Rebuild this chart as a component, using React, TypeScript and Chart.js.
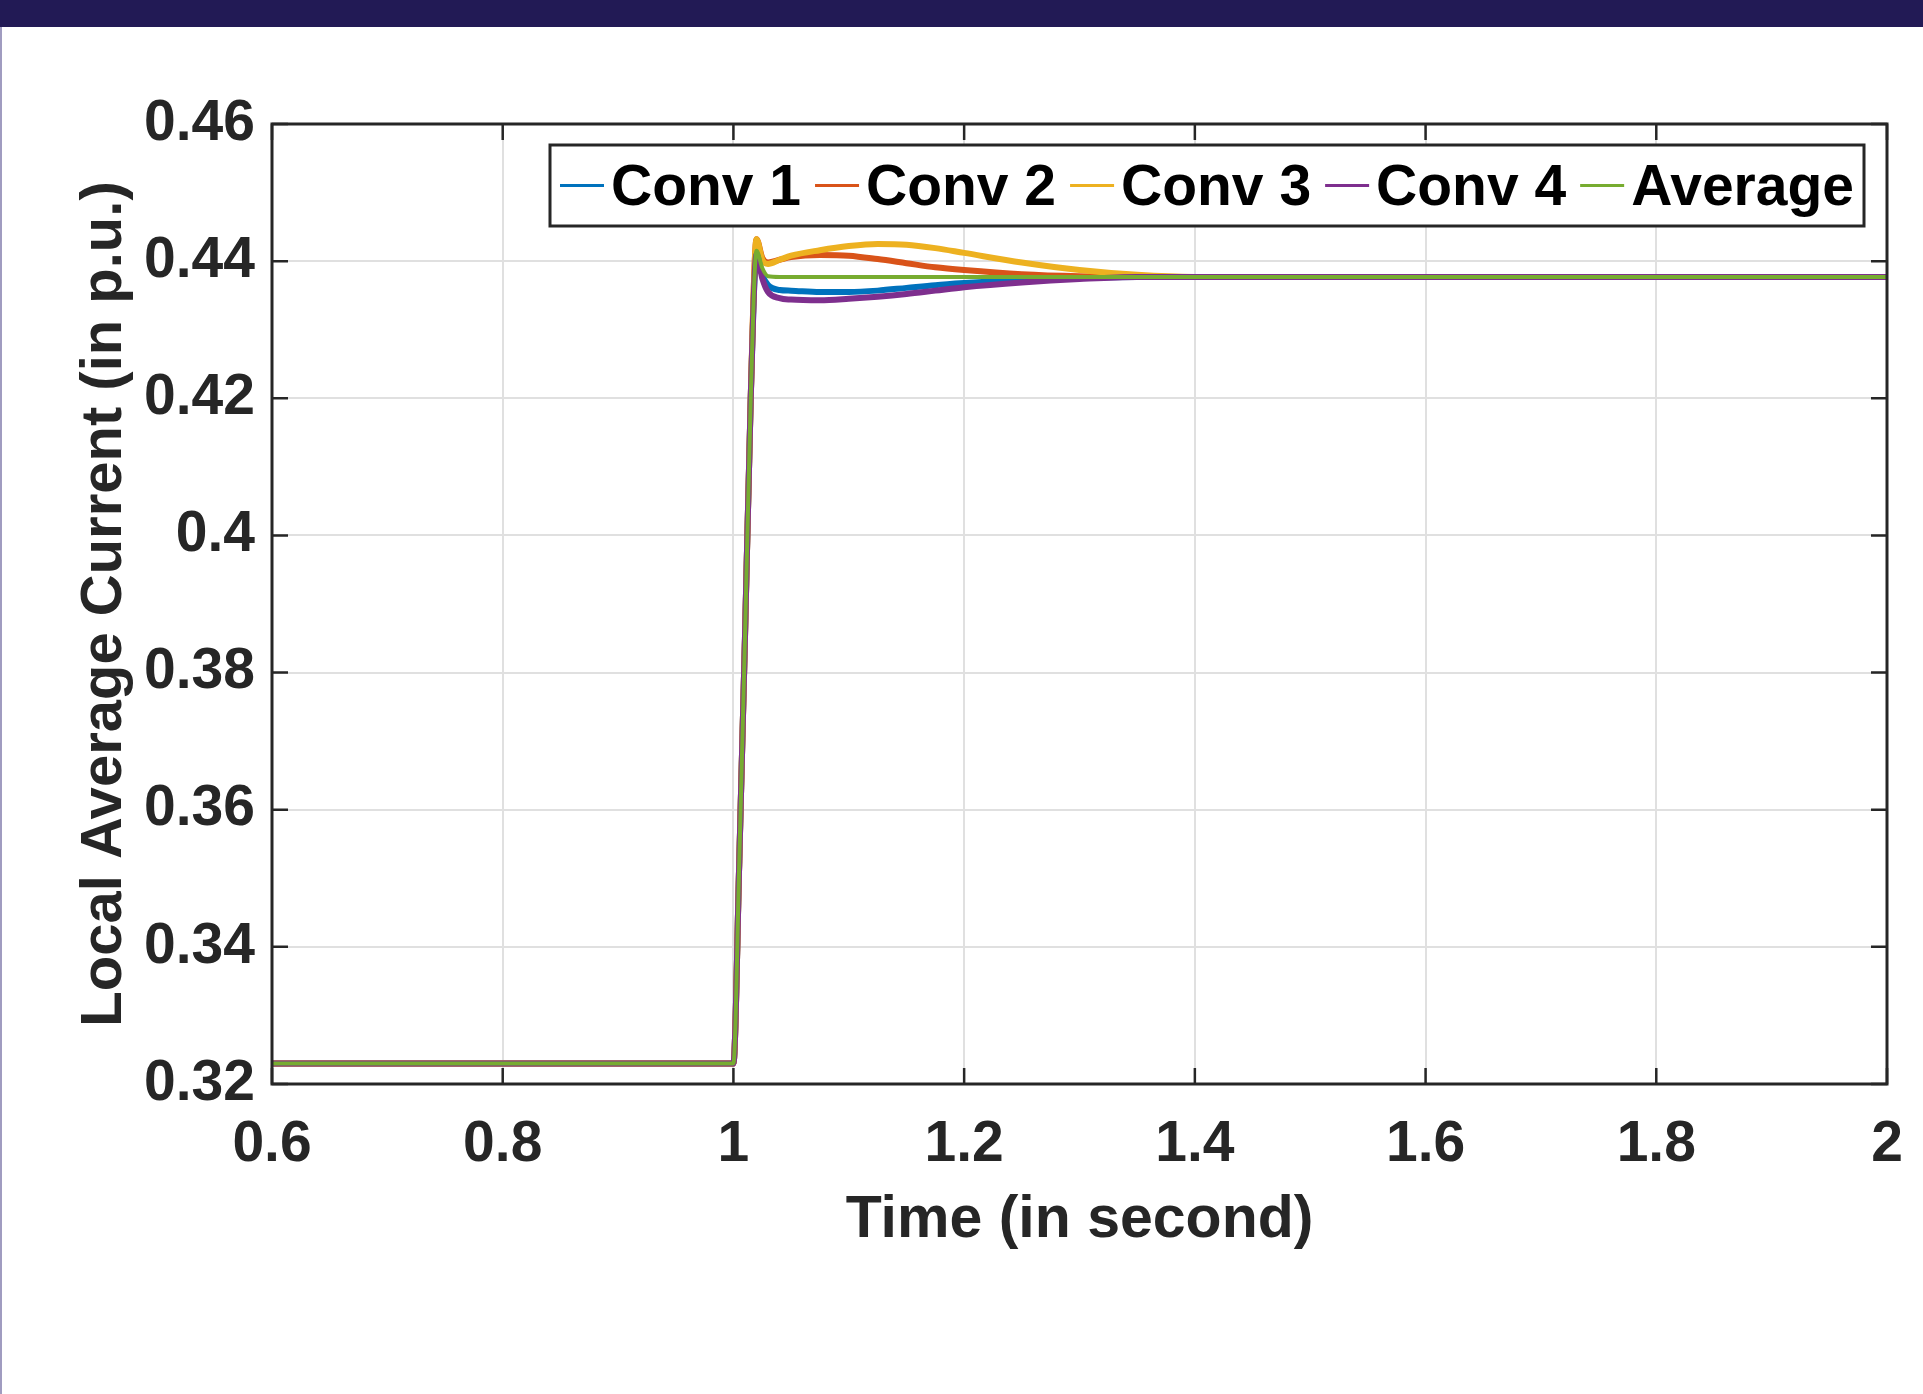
import React, { useEffect, useRef } from 'react';
import { Chart, registerables } from 'chart.js';

Chart.register(...registerables);

// ---- data ----
const times = [0.6, 0.7, 0.8, 0.9, 1.0, 1.005, 1.01, 1.015, 1.02, 1.025, 1.03, 1.04, 1.05, 1.075, 1.1, 1.125, 1.15, 1.175, 1.2, 1.25, 1.3, 1.35, 1.4, 1.6, 1.8, 2.0];

const conv1 = [0.323, 0.323, 0.323, 0.323, 0.323, 0.352, 0.385, 0.42, 0.441, 0.438, 0.4365, 0.4358, 0.4357, 0.4355, 0.4355, 0.4357, 0.4361, 0.4365, 0.4368, 0.4373, 0.4376, 0.4377, 0.4377, 0.4377, 0.4377, 0.4377];
const conv2 = [0.323, 0.323, 0.323, 0.323, 0.323, 0.352, 0.385, 0.42, 0.4432, 0.4405, 0.4398, 0.4402, 0.4406, 0.4409, 0.4408, 0.4403, 0.4397, 0.4391, 0.4387, 0.4381, 0.4378, 0.4377, 0.4377, 0.4377, 0.4377, 0.4377];
const conv3 = [0.323, 0.323, 0.323, 0.323, 0.323, 0.352, 0.385, 0.42, 0.4432, 0.4402, 0.4396, 0.4402, 0.4408, 0.4416, 0.4422, 0.4425, 0.4424, 0.4419, 0.4412, 0.4398, 0.4387, 0.438, 0.4377, 0.4377, 0.4377, 0.4377];
const conv4 = [0.323, 0.323, 0.323, 0.323, 0.323, 0.352, 0.385, 0.42, 0.441, 0.4375, 0.4355, 0.4346, 0.4344, 0.4343, 0.4345, 0.4348, 0.4352, 0.4357, 0.4362, 0.4369, 0.4374, 0.4377, 0.4377, 0.4377, 0.4377, 0.4377];
const average = [0.323, 0.323, 0.323, 0.323, 0.323, 0.352, 0.385, 0.42, 0.4415, 0.439, 0.4378, 0.4377, 0.4377, 0.4377, 0.4377, 0.4377, 0.4377, 0.4377, 0.4377, 0.4377, 0.4377, 0.4377, 0.4377, 0.4377, 0.4377, 0.4377];

const seriesLabels = ['Conv 1', 'Conv 2', 'Conv 3', 'Conv 4', 'Average'];
const seriesColors = ['#0072BD', '#D95319', '#EDB120', '#7E2F8E', '#77AC30'];
const seriesValues = [conv1, conv2, conv3, conv4, average];

const xTickValues = [0.6, 0.8, 1, 1.2, 1.4, 1.6, 1.8, 2];
const xTickLabels = ['0.6', '0.8', '1', '1.2', '1.4', '1.6', '1.8', '2'];
const yTickValues = [0.32, 0.34, 0.36, 0.38, 0.4, 0.42, 0.44, 0.46];
const yTickLabels = ['0.32', '0.34', '0.36', '0.38', '0.4', '0.42', '0.44', '0.46'];

const xTitle = 'Time (in second)';
const yTitle = 'Local Average Current (in p.u.)';

const FONT = '"Liberation Sans", Arial, Helvetica, sans-serif';
const INK = '#262626';

const boxPlugin = {
  id: 'matlabBox',
  afterDatasetsDraw(chart: any) {
    const { ctx, chartArea: a, scales } = chart;
    ctx.save();
    ctx.strokeStyle = INK;
    ctx.lineWidth = 2.5;
    const tl = 16;
    xTickValues.forEach((v) => {
      const px = scales.x.getPixelForValue(v);
      ctx.beginPath();
      ctx.moveTo(px, a.bottom);
      ctx.lineTo(px, a.bottom - tl);
      ctx.moveTo(px, a.top);
      ctx.lineTo(px, a.top + tl);
      ctx.stroke();
    });
    yTickValues.forEach((v) => {
      const py = scales.y.getPixelForValue(v);
      ctx.beginPath();
      ctx.moveTo(a.left, py);
      ctx.lineTo(a.left + tl, py);
      ctx.moveTo(a.right, py);
      ctx.lineTo(a.right - tl, py);
      ctx.stroke();
    });
    ctx.lineWidth = 3;
    ctx.strokeRect(a.left, a.top, a.right - a.left, a.bottom - a.top);
    ctx.restore();
  },
};

const legendPlugin = {
  id: 'insideLegend',
  afterDraw(chart: any) {
    const { ctx, chartArea: a } = chart;
    const ds = chart.data.datasets;
    ctx.save();
    ctx.font = `bold 57px ${FONT}`;
    const sample = 44, gapSample = 7, gapItem = 14, padX = 10, h = 81;
    const widths = ds.map((d: any) => ctx.measureText(d.label).width);
    const total = padX * 2 + widths.reduce((s: number, w: number) => s + w, 0) + ds.length * (sample + gapSample) + (ds.length - 1) * gapItem;
    const right = a.right - 23;
    const left = right - total;
    const top = a.top + 21;
    ctx.fillStyle = '#ffffff';
    ctx.fillRect(left, top, total, h);
    ctx.lineWidth = 3;
    ctx.strokeStyle = INK;
    ctx.strokeRect(left, top, total, h);
    let x = left + padX;
    const cy = top + h / 2;
    ds.forEach((d: any, i: number) => {
      ctx.strokeStyle = d.borderColor;
      ctx.lineWidth = 3;
      ctx.beginPath();
      ctx.moveTo(x, cy);
      ctx.lineTo(x + sample, cy);
      ctx.stroke();
      x += sample + gapSample;
      ctx.fillStyle = '#000000';
      ctx.textBaseline = 'middle';
      ctx.textAlign = 'left';
      ctx.fillText(d.label, x, cy + 4);
      x += widths[i] + gapItem;
    });
    ctx.restore();
  },
};

export default function App() {
  const canvasRef = useRef<HTMLCanvasElement | null>(null);

  useEffect(() => {
    document.body.style.margin = '0';
    const canvas = canvasRef.current;
    if (!canvas) return;
    const datasets = seriesLabels.map((label, i) => ({
      label,
      data: times.map((t, k) => ({ x: t, y: seriesValues[i][k] })),
      borderColor: seriesColors[i],
      backgroundColor: seriesColors[i],
      borderWidth: i === 4 ? 4 : 6,
      pointRadius: 0,
      fill: false,
      tension: 0,
      cubicInterpolationMode: 'monotone' as const,
      order: seriesLabels.length - 1 - i,
    }));

    const chart = new Chart(canvas, {
      type: 'line',
      data: { datasets },
      plugins: [boxPlugin, legendPlugin],
      options: {
        animation: false,
        responsive: false,
        maintainAspectRatio: false,
        layout: { padding: { top: 124, right: 36, bottom: 110, left: 0 } },
        plugins: { legend: { display: false }, tooltip: { enabled: false } },
        scales: {
          x: {
            type: 'linear',
            min: 0.6,
            max: 2,
            afterBuildTicks: (s: any) => {
              s.ticks = xTickValues.map((v) => ({ value: v }));
            },
            afterFit: (s: any) => {
              s.height = 200;
            },
            ticks: {
              callback: (_v: any, idx: number) => xTickLabels[idx],
              color: INK,
              font: { family: FONT, size: 57, weight: 'bold', lineHeight: 1.45 },
              padding: 20,
              maxRotation: 0,
              autoSkip: false,
            },
            grid: { color: '#e0e0e0', lineWidth: 2, drawTicks: false },
            border: { display: false },
            title: {
              display: true,
              text: xTitle,
              color: INK,
              font: { family: FONT, size: 59, weight: 'bold' },
              padding: { top: 0, bottom: 28 },
            },
          },
          y: {
            type: 'linear',
            min: 0.32,
            max: 0.46,
            afterBuildTicks: (s: any) => {
              s.ticks = yTickValues.map((v) => ({ value: v }));
            },
            afterFit: (s: any) => {
              s.width = 272;
            },
            ticks: {
              callback: (_v: any, idx: number) => yTickLabels[idx],
              color: INK,
              font: { family: FONT, size: 57, weight: 'bold' },
              padding: 17,
              autoSkip: false,
            },
            grid: { color: '#e0e0e0', lineWidth: 2, drawTicks: false },
            border: { display: false },
            title: {
              display: true,
              text: yTitle,
              color: INK,
              font: { family: FONT, size: 58, weight: 'bold' },
              padding: { top: 70, bottom: 0 },
            },
          },
        },
      },
    });
    return () => chart.destroy();
  }, []);

  return (
    <div style={{ position: 'fixed', left: 0, top: 0, width: 1923, height: 1394, background: '#ffffff', overflow: 'hidden' }}>
      <canvas ref={canvasRef} width={1923} height={1394} style={{ position: 'absolute', left: 0, top: 0, display: 'block' }} />
      <div style={{ position: 'absolute', left: 0, top: 0, width: 1923, height: 27, background: '#221a55' }} />
      <div style={{ position: 'absolute', left: 0, top: 27, width: 2, height: 1367, background: '#a09cc0' }} />
    </div>
  );
}
